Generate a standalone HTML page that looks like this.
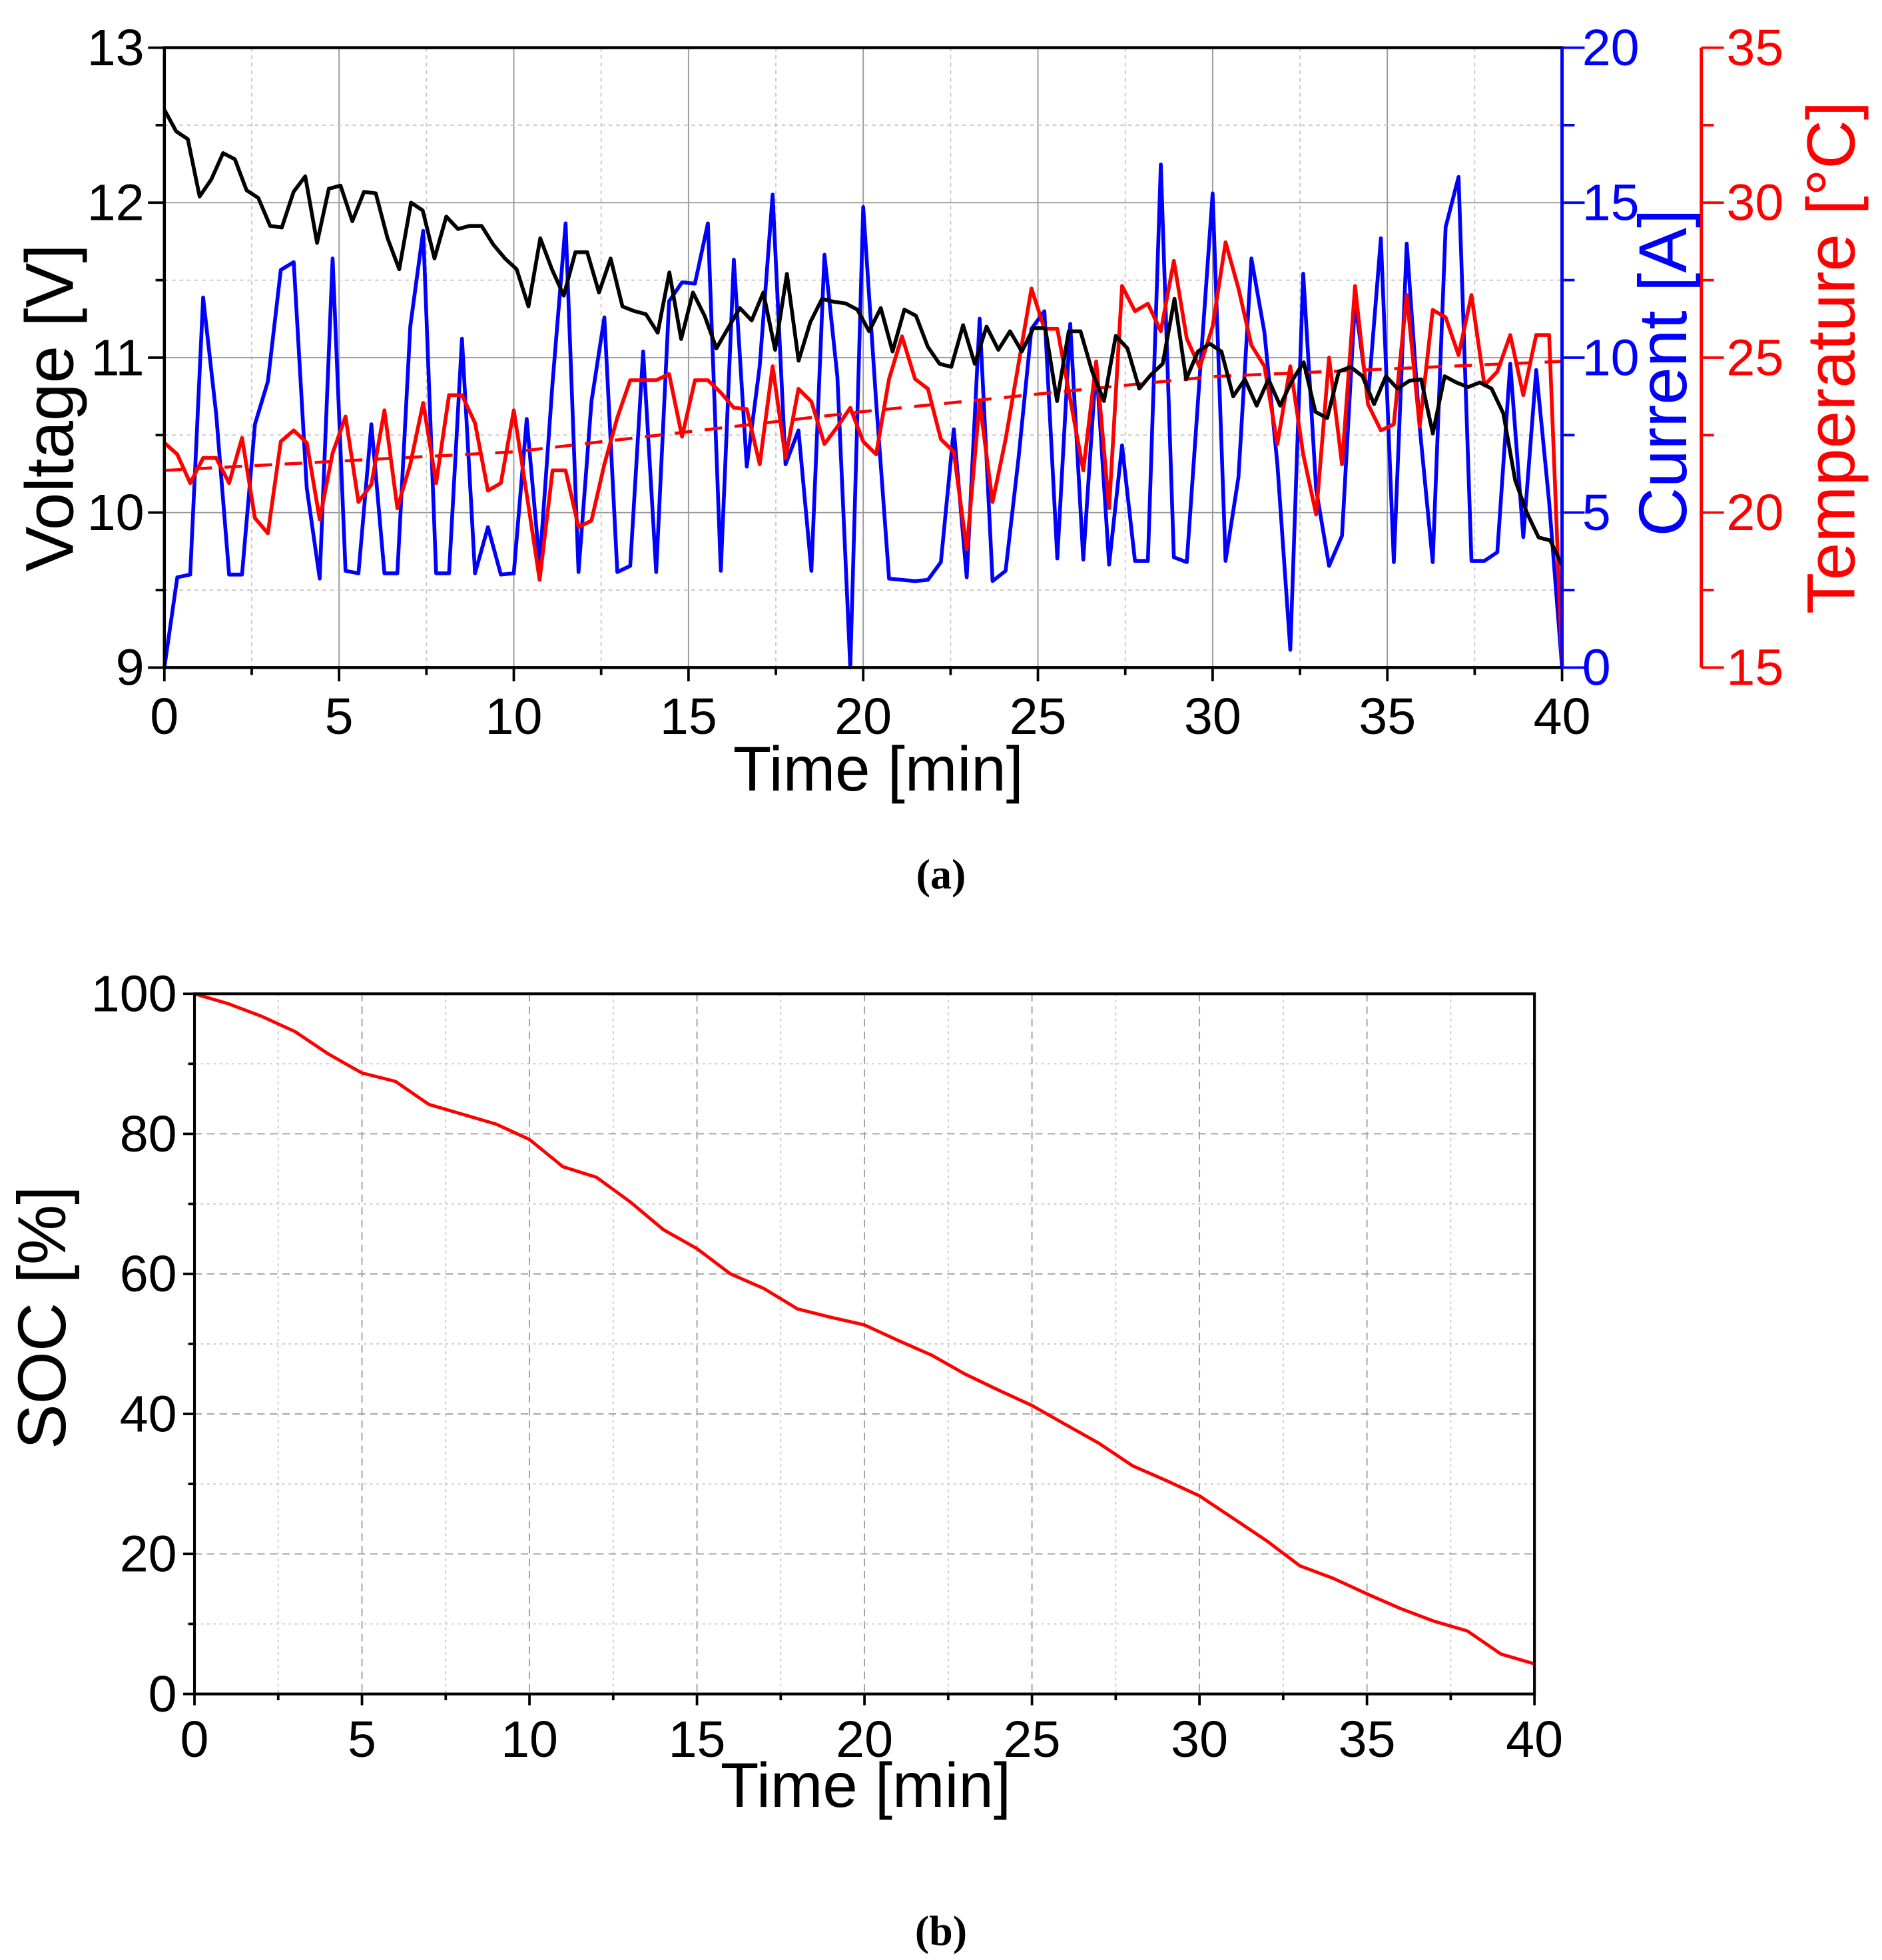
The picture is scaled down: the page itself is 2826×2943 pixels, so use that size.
<!DOCTYPE html>
<html><head><meta charset="utf-8"><style>
html,body{margin:0;padding:0;background:#fff}
svg{display:block}
text{font-family:"Liberation Sans",sans-serif}
text.cap{font-family:"Liberation Serif",serif;font-weight:bold}
</style></head><body>
<svg id="fig" width="2826" height="2943" viewBox="0 0 1500 1562" preserveAspectRatio="none" xmlns="http://www.w3.org/2000/svg">
<g id="top"></g>
<g id="bot"></g>
<text class="cap" x="750" y="708" text-anchor="middle" font-size="34">(a)</text>
<text class="cap" x="750" y="1550" text-anchor="middle" font-size="34">(b)</text>
</svg>
<script>
const voltage=[12.60,12.46,12.41,12.04,12.15,12.32,12.28,12.08,12.03,11.85,11.84,12.07,12.17,11.74,12.09,12.11,11.88,12.07,12.06,11.77,11.57,12.00,11.95,11.64,11.91,11.83,11.85,11.85,11.73,11.64,11.57,11.33,11.77,11.57,11.40,11.68,11.68,11.42,11.64,11.33,11.30,11.28,11.16,11.55,11.12,11.42,11.27,11.06,11.19,11.32,11.24,11.42,11.05,11.54,10.98,11.23,11.38,11.36,11.35,11.31,11.17,11.32,11.04,11.31,11.27,11.07,10.96,10.94,11.21,10.96,11.20,11.05,11.17,11.04,11.19,11.19,10.72,11.17,11.17,10.91,10.72,11.14,11.06,10.80,10.89,10.96,11.38,10.86,11.04,11.09,11.04,10.75,10.86,10.69,10.86,10.69,10.85,10.97,10.65,10.61,10.91,10.94,10.88,10.70,10.88,10.80,10.85,10.86,10.51,10.88,10.84,10.81,10.84,10.80,10.64,10.21,10.00,9.84,9.82,9.66];
const current=[0,2.91,3.00,11.94,8.18,3.00,3.00,7.85,9.23,12.83,13.08,5.79,2.87,13.20,3.12,3.04,7.85,3.04,3.04,11.01,14.09,3.04,3.04,10.61,3.04,4.53,3.00,3.04,8.02,3.32,9.19,14.33,3.08,8.58,11.30,3.08,3.28,10.20,3.08,11.82,12.43,12.39,14.33,3.12,13.16,6.48,9.72,15.26,6.56,7.65,3.12,13.32,9.39,0,14.86,8.58,2.87,2.83,2.79,2.83,3.40,7.69,2.91,11.26,2.79,3.12,6.76,10.93,11.50,3.52,11.09,3.48,9.80,3.32,7.17,3.44,3.44,16.23,3.56,3.40,9.39,15.30,3.44,6.15,13.20,10.81,6.56,0.57,12.71,5.75,3.28,4.25,11.82,8.66,13.85,3.40,13.68,7.77,3.40,14.21,15.83,3.44,3.44,3.72,9.80,4.21,9.60,5.34,0];
const temperature=[22.25,21.88,20.95,21.76,21.76,20.95,22.41,19.82,19.33,22.29,22.65,22.25,19.78,21.92,23.10,20.34,20.91,23.30,20.14,21.56,23.54,20.95,23.79,23.79,22.89,20.71,20.95,23.30,20.59,17.83,21.36,21.36,19.53,19.74,21.56,23.06,24.27,24.27,24.27,24.47,22.45,24.27,24.27,23.87,23.38,23.34,21.56,24.72,21.76,23.99,23.58,22.21,22.77,23.38,22.29,21.88,24.31,25.69,24.31,23.99,22.37,21.96,18.81,23.58,20.34,22.37,24.80,27.23,25.93,25.93,23.66,21.36,24.88,20.14,27.31,26.50,26.74,25.85,28.12,25.61,24.68,26.01,28.72,27.23,25.40,24.72,22.21,24.72,21.88,19.94,25.00,21.56,27.31,23.50,22.65,22.85,27.02,22.77,26.54,26.30,25.08,27.02,24.11,24.55,25.73,23.79,25.73,25.73,15.08];
const trendTimes=[0,10,20,30,40];
const trendTemp=[21.36,21.96,23.26,24.39,24.88];
const socTimes=[0,1,2,3,4,5,6,7,8,9,10,11,12,13,14,15,16,17,18,19,20,21,22,23,24,25,26,27,28,29,30,31,32,33,34,35,36,37,38,39,40];
const socValues=[100,98.6,96.8,94.6,91.4,88.7,87.5,84.2,82.8,81.4,79.2,75.3,73.8,70.3,66.3,63.6,60.0,57.9,55.0,53.8,52.7,50.5,48.4,45.7,43.4,41.2,38.5,35.8,32.6,30.5,28.3,25.1,21.9,18.3,16.5,14.3,12.2,10.4,9.0,5.7,4.3];
const xTicks=[0,5,10,15,20,25,30,35,40];
const vTicks=[9,10,11,12,13];
const iTicks=[0,5,10,15,20];
const tTicks=[15,20,25,30,35];
const socTicks=[0,20,40,60,80,100];

const NS="http://www.w3.org/2000/svg";
function el(parent,tag,attrs,txt){const e=document.createElementNS(NS,tag);for(const k in attrs)e.setAttribute(k,attrs[k]);if(txt!==undefined)e.textContent=txt;parent.appendChild(e);return e;}

// ---------- Chart A ----------
const A=document.getElementById('top');
const aL=131,aR=1245,aT=38,aB=532,redX=1356;
const ax=t=>aL+(t/40)*(aR-aL);
const ayV=v=>aB-(v-9)/4*(aB-aT);
const ayI=v=>aB-(v/20)*(aB-aT);
const ayT=v=>aB-(v-15)/20*(aB-aT);
for(let t=2.5;t<40;t+=2.5){const g=el(A,'line',{x1:ax(t),x2:ax(t),y1:aT,y2:aB,stroke:(t%5===0)?'#9a9a9a':'#c8c8c8','stroke-width':1,'stroke-dasharray':(t%5===0)?'none':'3,3'});

}
for(let v=9.5;v<13;v+=0.5){const g=el(A,'line',{x1:aL,x2:aR,y1:ayV(v),y2:ayV(v),stroke:(v%1===0)?'#9a9a9a':'#c8c8c8','stroke-width':1,'stroke-dasharray':(v%1===0)?'none':'3,3'});

}
function poly(parent,xs,ys,color,w,dash,name){const pts=xs.map((x,i)=>x.toFixed(1)+','+ys[i].toFixed(1)).join(' ');const p=el(parent,'polyline',{points:pts,fill:'none',stroke:color,'stroke-width':w,'stroke-linejoin':'round'});if(dash)p.setAttribute('stroke-dasharray',dash);


return p;}
const tIdx=(arr,i)=>i*40/(arr.length-1);
poly(A,current.map((v,i)=>ax(tIdx(current,i))),current.map(ayI),'#0000ff',3,null,'current-line');
poly(A,temperature.map((v,i)=>ax(tIdx(temperature,i))),temperature.map(ayT),'#ff0000',3,null,'temperature-line');
poly(A,trendTimes.map(ax),trendTemp.map(ayT),'#ff0000',2.4,'14,10','temperature-trend-line');
poly(A,voltage.map((v,i)=>ax(tIdx(voltage,i))),voltage.map(ayV),'#000000',3,null,'voltage-line');
el(A,'rect',{x:aL,y:aT,width:aR-aL,height:aB-aT,fill:'none',stroke:'#000','stroke-width':2.4,});
el(A,'line',{x1:aR,x2:aR,y1:aT,y2:aB,stroke:'#0000ff','stroke-width':2.6,});
el(A,'line',{x1:redX,x2:redX,y1:aT,y2:aB,stroke:'#ff0000','stroke-width':2.6,});
for(let t=0;t<=40;t+=2.5){el(A,'line',{x1:ax(t),x2:ax(t),y1:aB,y2:aB+(t%5===0?11:6),stroke:'#000','stroke-width':2});}
xTicks.forEach(t=>{const e=el(A,'text',{x:ax(t),y:aB+53,'text-anchor':'middle','font-size':41},String(t));

});
for(let v=9;v<=13;v+=0.5){el(A,'line',{x1:aL-(v%1===0?13:7),x2:aL,y1:ayV(v),y2:ayV(v),stroke:'#000','stroke-width':2});}
vTicks.forEach(v=>{const e=el(A,'text',{x:aL-16,y:ayV(v)+14,'text-anchor':'end','font-size':41},String(v));

});
for(let v=0;v<=20;v+=2.5){el(A,'line',{x1:aR,x2:aR+(v%5===0?18:10),y1:ayI(v),y2:ayI(v),stroke:'#0000ff','stroke-width':2});}
iTicks.forEach(v=>{const e=el(A,'text',{x:aR+16,y:ayI(v)+14,'font-size':41,fill:'#0000ff'},String(v));

});
for(let v=15;v<=35;v+=2.5){el(A,'line',{x1:redX,x2:redX+(v%5===0?18:10),y1:ayT(v),y2:ayT(v),stroke:'#ff0000','stroke-width':2});}
tTicks.forEach(v=>{const e=el(A,'text',{x:redX+20,y:ayT(v)+14,'font-size':41,fill:'#ff0000'},String(v));

});
el(A,'text',{x:700,y:630,'text-anchor':'middle','font-size':50,},'Time [min]');
el(A,'text',{x:0,y:0,'text-anchor':'middle','font-size':54,transform:'translate(58,325) rotate(-90)',},'Voltage [V]');
el(A,'text',{x:0,y:0,'text-anchor':'middle','font-size':54,fill:'#0000ff',transform:'translate(1344,297) rotate(-90)',},'Current [A]');
el(A,'text',{x:0,y:0,'text-anchor':'middle','font-size':54,fill:'#ff0000',transform:'translate(1478,285) rotate(-90)',},'Temperature [°C]');

// ---------- Chart B ----------
const B=document.getElementById('bot');
const bL=155,bR=1223,bT=792,bB=1350;
const bx=t=>bL+(t/40)*(bR-bL);
const by=v=>bB-(v/100)*(bB-bT);
for(let t=2.5;t<40;t+=2.5){const g=el(B,'line',{x1:bx(t),x2:bx(t),y1:bT,y2:bB,stroke:(t%5===0)?'#a0a0a0':'#c8c8c8','stroke-width':1,'stroke-dasharray':(t%5===0)?'6,4':'2,3'});

}
for(let v=10;v<100;v+=10){const g=el(B,'line',{x1:bL,x2:bR,y1:by(v),y2:by(v),stroke:(v%20===0)?'#a0a0a0':'#c8c8c8','stroke-width':1,'stroke-dasharray':(v%20===0)?'6,4':'2,3'});

}
poly(B,socTimes.map(bx),socValues.map(by),'#ff0000',2.6,null,'soc-line');
el(B,'rect',{x:bL,y:bT,width:bR-bL,height:bB-bT,fill:'none',stroke:'#000','stroke-width':2.2,});
for(let t=0;t<=40;t+=2.5){el(B,'line',{x1:bx(t),x2:bx(t),y1:bB,y2:bB+(t%5===0?9:5),stroke:'#000','stroke-width':2});}
for(let v=0;v<=100;v+=10){el(B,'line',{x1:bL-(v%20===0?9:5),x2:bL,y1:by(v),y2:by(v),stroke:'#000','stroke-width':2});}
xTicks.forEach(t=>{const e=el(B,'text',{x:bx(t),y:bB+50,'text-anchor':'middle','font-size':41},String(t));

});
socTicks.forEach(v=>{const e=el(B,'text',{x:bL-14,y:by(v)+14,'text-anchor':'end','font-size':41},String(v));

});
el(B,'text',{x:690,y:1440,'text-anchor':'middle','font-size':50,},'Time [min]');
el(B,'text',{x:0,y:0,'text-anchor':'middle','font-size':54,transform:'translate(52,1050) rotate(-90)',},'SOC [%]');
</script>
</body></html>
